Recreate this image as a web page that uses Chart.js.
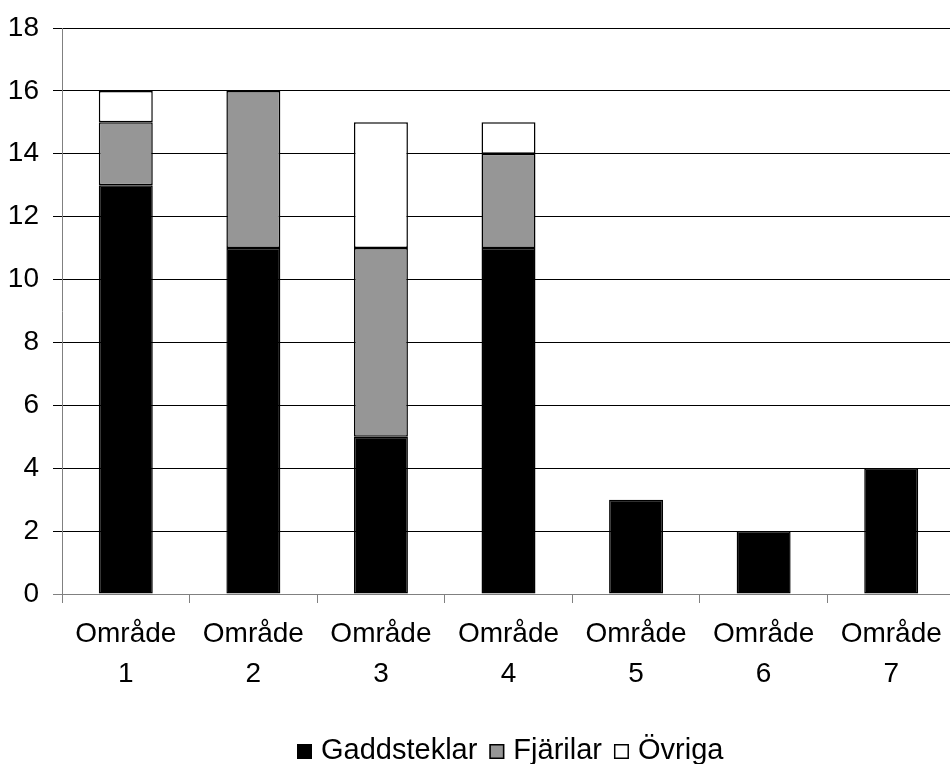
<!DOCTYPE html>
<html>
<head>
<meta charset="utf-8">
<script src="https://cdn.jsdelivr.net/npm/chart.js@4"></script>
<style>
  html, body { margin: 0; padding: 0; background: #fff; overflow: hidden; }
  #wrap { position: absolute; left: 0; top: 0; width: 955px; height: 764px; }
</style>
</head>
<body>
<div id="wrap"><canvas id="c"></canvas></div>
<script>
// Insektsgrupper per område
const categories = [
  ['Område', '1'], ['Område', '2'], ['Område', '3'], ['Område', '4'],
  ['Område', '5'], ['Område', '6'], ['Område', '7']
];
const seriesNames = ['Gaddsteklar', 'Fjärilar', 'Övriga'];
const gaddsteklar = [13, 11, 5, 11, 3, 2, 4];
const fjarilar    = [2, 5, 6, 3, null, null, null];
const ovriga      = [1, null, 4, 1, null, null, null];
const seriesColors = ['#000000', '#969696', '#ffffff'];
const yTicks = [0, 2, 4, 6, 8, 10, 12, 14, 16, 18];

const FONT = "'Liberation Sans', Arial, sans-serif";

// Legend drawn under the axis: square box, then the series name
const bottomLegend = {
  id: 'bottomLegend',
  afterDraw(chart) {
    const ctx = chart.ctx;
    ctx.save();
    ctx.font = '29px ' + FONT;
    ctx.textBaseline = 'alphabetic';
    const baseline = 759;
    const box = 15;
    let x = 297;
    chart.data.datasets.forEach(ds => {
      ctx.fillStyle = ds.backgroundColor;
      ctx.fillRect(x, baseline - box, box, box);
      ctx.strokeStyle = '#000';
      ctx.lineWidth = 1.5;
      ctx.strokeRect(x + 0.75, baseline - box + 0.75, box - 1.5, box - 1.5);
      x += box + 9;
      ctx.fillStyle = '#000';
      ctx.fillText(ds.label, x, baseline);
      x += ctx.measureText(ds.label).width + 12;
    });
    ctx.restore();
  }
};

const makeSet = (i, data) => ({
  label: seriesNames[i],
  data: data,
  backgroundColor: seriesColors[i],
  borderColor: '#000',
  borderWidth: 1.5,
  borderSkipped: false,
  categoryPercentage: 1,
  barPercentage: 0.423
});

new Chart(document.getElementById('c'), {
  type: 'bar',
  data: {
    labels: categories,
    datasets: [makeSet(0, gaddsteklar), makeSet(1, fjarilar), makeSet(2, ovriga)]
  },
  options: {
    responsive: true,
    maintainAspectRatio: false,
    animation: false,
    layout: { padding: { top: 8, right: 0, bottom: 0, left: 0 } },
    plugins: {
      legend: { display: false },
      tooltip: { enabled: false }
    },
    scales: {
      x: {
        stacked: true,
        offset: true,
        grid: {
          offset: true,
          drawOnChartArea: false,
          tickLength: 9,
          color: '#808080'
        },
        border: { color: '#808080', width: 1 },
        ticks: {
          color: '#000',
          padding: 11,
          maxRotation: 0,
          autoSkip: false,
          font: { family: FONT, size: 28, lineHeight: 40 / 28 }
        },
        afterFit(scale) { scale.height = 170; }
      },
      y: {
        stacked: true,
        min: 0,
        max: 18,
        afterBuildTicks(scale) { scale.ticks = yTicks.map(v => ({ value: v })); },
        grid: {
          tickLength: 9,
          lineWidth: 1,
          color: c => (c.tick && c.tick.value === 0) ? '#808080' : '#000'
        },
        border: { color: '#808080', width: 1 },
        ticks: {
          color: '#000',
          padding: 14,
          font: { family: FONT, size: 28, lineHeight: 1 }
        },
        afterFit(scale) { scale.width = 62; }
      }
    }
  },
  plugins: [bottomLegend]
});
</script>
</body>
</html>
